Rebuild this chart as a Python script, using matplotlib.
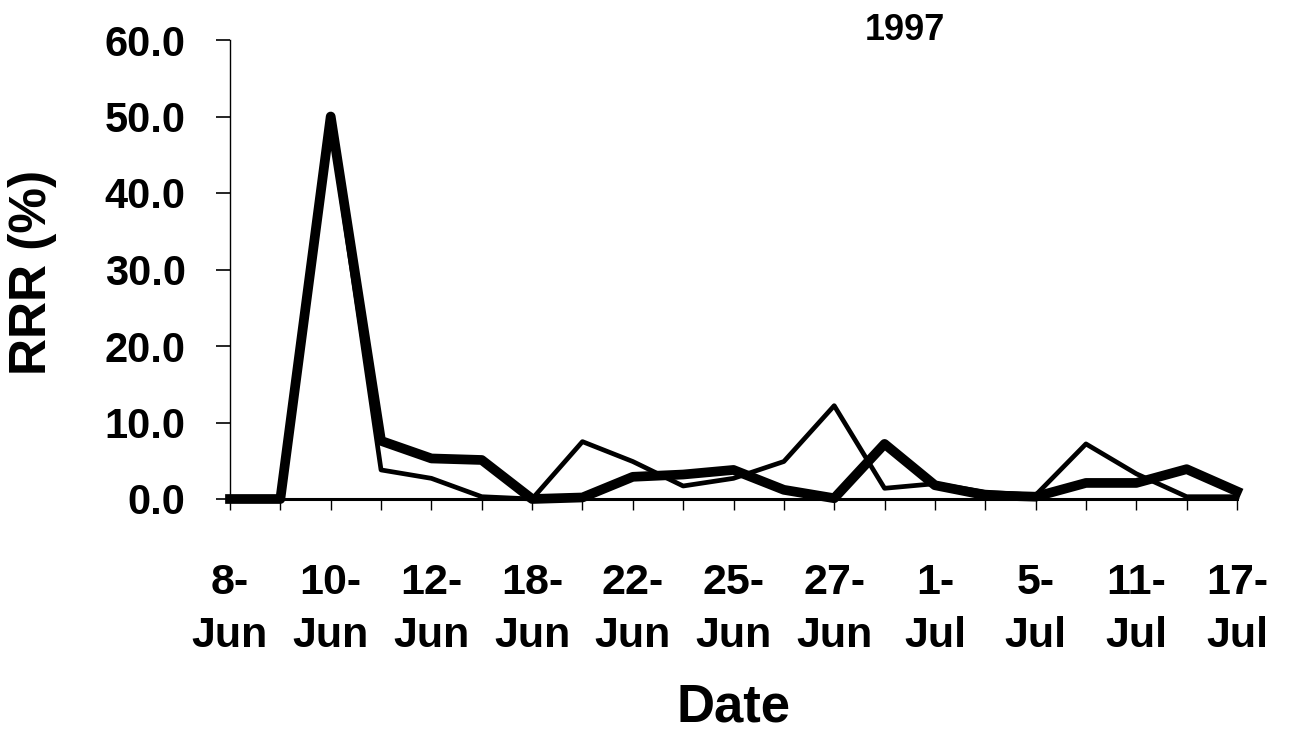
import numpy as np
import matplotlib
matplotlib.use("Agg")
import matplotlib.pyplot as plt

plt.rcParams['font.family'] = ['Liberation Sans', 'DejaVu Sans']
plt.rcParams['font.weight'] = 'bold'

# category labels (only every other one is printed on the axis)
tick_labels = ['8-\nJun', '', '10-\nJun', '', '12-\nJun', '', '18-\nJun', '',
               '22-\nJun', '', '25-\nJun', '', '27-\nJun', '', '1-\nJul', '',
               '5-\nJul', '', '11-\nJul', '', '17-\nJul']

# RRR (%) per sampling date
rrr_thick = [0.0, 0.0, 50.0, 7.6, 5.3, 5.1, 0.0, 0.2, 2.9, 3.2, 3.8,
             1.2, 0.1, 7.2, 1.8, 0.5, 0.3, 2.1, 2.1, 3.9, 1.0]
rrr_thin = [0.0, 0.0, 49.0, 3.8, 2.7, 0.3, 0.0, 7.5, 4.9, 1.7, 2.7,
            4.9, 12.2, 1.4, 2.0, 0.9, 0.5, 7.2, 3.3, 0.3, 0.3]

yticks = [0, 10, 20, 30, 40, 50, 60]

x = np.arange(len(tick_labels))

fig = plt.figure(figsize=(12.89, 7.36), dpi=100)
ax = fig.add_axes([230/1289, 1 - 499/736, (1237 - 230)/1289, (499 - 40)/736])

ax.plot(x, rrr_thin, color='black', lw=3.4, solid_joinstyle='round', clip_on=False, zorder=3)
ax.plot(x, rrr_thick, color='black', lw=7.0, solid_joinstyle='round', clip_on=False, zorder=4)

ax.set_xlim(0, len(x) - 1)
ax.set_ylim(0, 60)
ax.set_yticks(yticks)
ax.set_yticklabels([f'{v:.1f}' for v in yticks], fontsize=30, fontweight='bold')
ax.set_xticks(x)
ax.set_xticklabels(tick_labels, fontsize=31, fontweight='bold', linespacing=1.42)

for s in ['top', 'right']:
    ax.spines[s].set_visible(False)
ax.spines['left'].set_linewidth(1.0)
ax.spines['bottom'].set_linewidth(2.2)
ax.tick_params(axis='y', length=10, width=1.2, pad=22, direction='out')
ax.tick_params(axis='x', length=8, width=1.0, pad=38, direction='out')

fig.text(33/1289, 1 - 272/736, 'RRR (%)', rotation=90, fontsize=37,
         fontweight='bold', ha='center', va='center')
fig.text(734/1289, 1 - 707/736, 'Date', fontsize=38, fontweight='bold',
         ha='center', va='center')
fig.text(905/1289, 1 - 30/736, '1997', fontsize=26, fontweight='bold',
         ha='center', va='center')

fig.savefig('out.png', dpi=100)
